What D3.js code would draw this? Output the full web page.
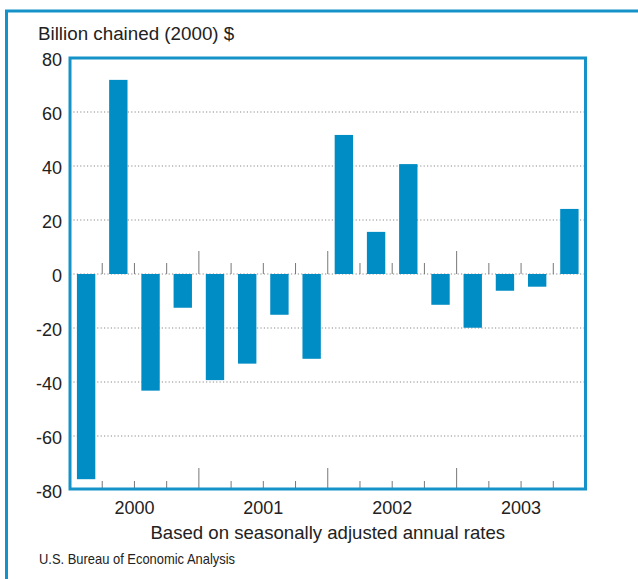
<!DOCTYPE html>
<html>
<head>
<meta charset="utf-8">
<script src="https://cdn.jsdelivr.net/npm/d3@7"></script>
<style>
  body { margin: 0; background: #fff; }
  svg { display: block; font-family: "Liberation Sans", Arial, sans-serif; }
</style>
</head>
<body>
<svg id="chart" width="638" height="579"></svg>
<script>
"use strict";

// quarterly change, billion chained (2000) $
const quarters = ['2000Q1', '2000Q2', '2000Q3', '2000Q4',
  '2001Q1', '2001Q2', '2001Q3', '2001Q4',
  '2002Q1', '2002Q2', '2002Q3', '2002Q4',
  '2003Q1', '2003Q2', '2003Q3', '2003Q4'];
const values = [-76.0, 71.9, -43.2, -12.5,
  -39.3, -33.2, -15.1, -31.4,
  51.5, 15.6, 40.7, -11.4,
  -19.9, -6.2, -4.7, 24.1];
const years = ['2000', '2001', '2002', '2003'];
const yTicks = [80, 60, 40, 20, 0, -20, -40, -60, -80];

const blue = '#008cc4';
const frameBlue = '#1593c9';

const svg = d3.select('#chart');

let plot = { left: 70, right: 585.5, top: 58, bottom: 490 };

// outer frame (top + left edges only are visible)
svg.append('path')
  .attr('d', 'M6.5,579 V11 H638')
  .attr('fill', 'none')
  .attr('stroke', frameBlue)
  .attr('stroke-width', 3);

let x = d3.scaleBand()
  .domain(quarters)
  .range([plot.left, plot.right])
  .paddingInner(0.43)
  .paddingOuter(0.215);

let xYear = d3.scaleBand()
  .domain(years)
  .range([plot.left, plot.right]);

let y = d3.scaleLinear()
  .domain([-80, 80])
  .range([plot.bottom, plot.top]);

// dotted gridlines
svg.append('g')
  .selectAll('line')
  .data(yTicks.filter((d) => d !== 80 && d !== -80))
  .enter()
  .append('line')
  .attr('x1', plot.left)
  .attr('x2', plot.right)
  .attr('y1', (d) => y(d))
  .attr('y2', (d) => y(d))
  .attr('stroke', '#8a8a8a')
  .attr('stroke-width', 1.2)
  .attr('stroke-dasharray', '1.2,2.2');

// quarter boundaries (between bars)
let gap = (x.step() - x.bandwidth()) / 2;
let boundaries = quarters.slice(1).map((q, i) => ({
  pos: x(q) - gap,
  isYear: (i + 1) % 4 === 0
}));

// ticks above the zero line
svg.append('g')
  .selectAll('line')
  .data(boundaries)
  .enter()
  .append('line')
  .attr('x1', (d) => d.pos)
  .attr('x2', (d) => d.pos)
  .attr('y1', y(0))
  .attr('y2', (d) => y(0) - (d.isYear ? 23 : 11))
  .attr('stroke', '#777')
  .attr('stroke-width', 1);

// ticks rising from the bottom frame
svg.append('g')
  .selectAll('line')
  .data(boundaries)
  .enter()
  .append('line')
  .attr('x1', (d) => d.pos)
  .attr('x2', (d) => d.pos)
  .attr('y1', plot.bottom)
  .attr('y2', (d) => plot.bottom - (d.isYear ? 22 : 9))
  .attr('stroke', '#777')
  .attr('stroke-width', 1);

// bars
svg.append('g')
  .selectAll('rect')
  .data(values)
  .enter()
  .append('rect')
  .attr('fill', blue)
  .attr('x', (d, i) => x(quarters[i]))
  .attr('width', x.bandwidth())
  .attr('y', (d) => y(Math.max(0, d)))
  .attr('height', (d) => Math.abs(y(d) - y(0)));

// plot frame
svg.append('rect')
  .attr('x', plot.left)
  .attr('y', plot.top)
  .attr('width', plot.right - plot.left)
  .attr('height', plot.bottom - plot.top - 1)
  .attr('fill', 'none')
  .attr('stroke', frameBlue)
  .attr('stroke-width', 3);

// y axis labels (plain hyphen for negatives)
let yAxis = svg.append('g')
  .attr('transform', 'translate(' + plot.left + ',0)')
  .call(d3.axisLeft(y).tickValues(yTicks).tickSize(0).tickPadding(8).tickFormat((d) => String(d)));
yAxis.select('.domain').remove();
yAxis.selectAll('text')
  .attr('font-size', 18)
  .attr('font-family', '"Liberation Sans", Arial, sans-serif')
  .attr('fill', '#222')
  .attr('dy', '0.42em');

// year labels
let xAxis = svg.append('g')
  .attr('transform', 'translate(0,' + plot.bottom + ')')
  .call(d3.axisBottom(xYear).tickSize(0).tickPadding(10));
xAxis.select('.domain').remove();
xAxis.selectAll('text')
  .attr('font-size', 18)
  .attr('font-family', '"Liberation Sans", Arial, sans-serif')
  .attr('fill', '#222')
  .attr('dy', '0.75em');

// texts
svg.append('text')
  .attr('x', 38)
  .attr('y', 40)
  .attr('font-size', 18.8)
  .attr('fill', '#222')
  .text('Billion chained (2000) $');

svg.append('text')
  .attr('x', (plot.left + plot.right) / 2)
  .attr('y', 539)
  .attr('text-anchor', 'middle')
  .attr('font-size', 18.6)
  .attr('fill', '#222')
  .text('Based on seasonally adjusted annual rates');

// condensed source line
svg.append('text')
  .attr('x', 39)
  .attr('y', 564)
  .attr('font-size', 15)
  .attr('textLength', 196)
  .attr('lengthAdjust', 'spacingAndGlyphs')
  .attr('fill', '#222')
  .text('U.S. Bureau of Economic Analysis');
</script>
</body>
</html>
